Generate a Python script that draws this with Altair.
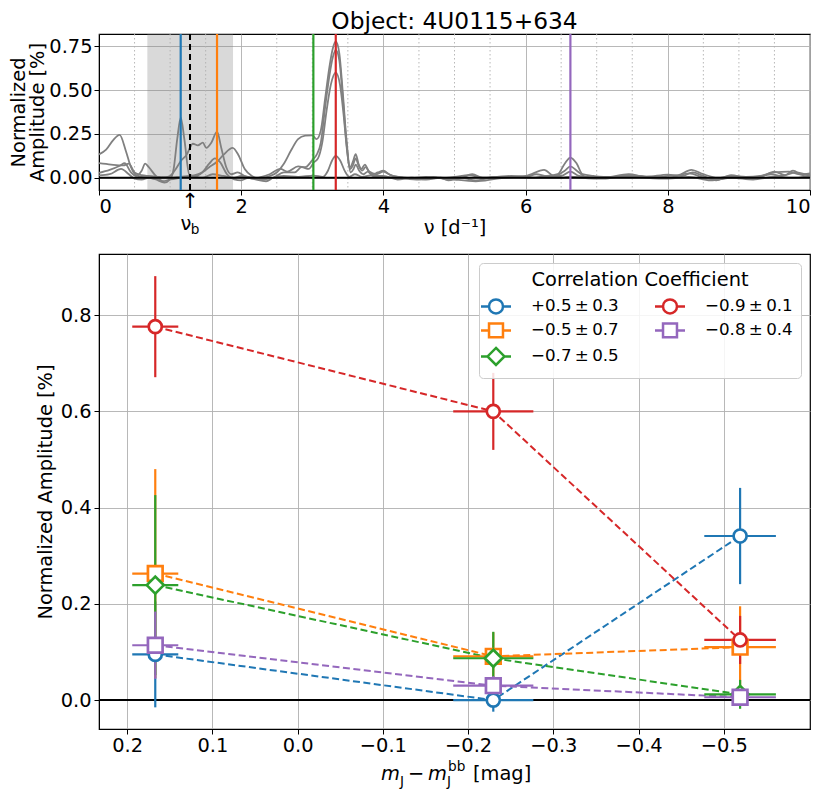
import altair as alt
import pandas as pd

FONT = "DejaVu Sans"
FS = 19.4
FS_LEG = 16.7

# ---------------- top panel: amplitude spectra ----------------
curve_A = [(0, 0.133), (0.1, 0.16), (0.2, 0.215), (0.29, 0.244), (0.38, 0.15), (0.45, 0.06),
           (0.52, 0.015), (0.6, 0.005), (0.7, 0.0), (0.8, -0.005), (0.9, 0.0), (1.0, 0.01),
           (1.08, 0.05), (1.15, 0.095), (1.23, 0.13), (1.32, 0.194), (1.39, 0.185), (1.46, 0.2),
           (1.51, 0.17), (1.58, 0.2), (1.66, 0.263), (1.72, 0.17), (1.79, 0.06), (1.86, 0.02),
           (1.95, 0.03), (2.05, 0.01), (2.15, -0.005), (2.3, 0.0), (2.4, 0.01), (2.5, 0.03),
           (2.6, 0.08), (2.7, 0.155), (2.8, 0.22), (2.9, 0.24), (3.0, 0.242), (3.06, 0.22),
           (3.12, 0.27), (3.18, 0.45), (3.24, 0.63), (3.29, 0.74), (3.33, 0.778), (3.38, 0.71),
           (3.43, 0.48), (3.48, 0.22), (3.53, 0.06), (3.57, 0.09), (3.61, 0.135), (3.65, 0.08),
           (3.69, 0.05), (3.74, 0.075), (3.79, 0.04), (3.85, 0.02), (3.92, 0.03), (4.0, 0.04),
           (4.08, 0.02), (4.2, 0.005), (4.4, 0.0), (4.6, 0.005), (4.8, 0.0), (5.0, 0.005),
           (5.2, 0.015), (5.4, 0.0), (5.6, 0.005), (5.8, 0.01), (6.0, 0.005), (6.15, 0.02),
           (6.3, 0.01), (6.45, 0.02), (6.55, 0.08), (6.63, 0.115), (6.72, 0.08), (6.8, 0.02),
           (6.95, 0.01), (7.1, 0.005), (7.3, 0.005), (7.45, 0.015), (7.6, 0.01), (7.8, 0.0),
           (8.0, 0.01), (8.15, 0.015), (8.33, 0.045), (8.5, 0.02), (8.7, 0.0), (8.9, 0.01),
           (9.1, 0.005), (9.3, 0.01), (9.5, 0.03), (9.7, 0.035), (9.85, 0.02), (10.0, 0.025)]

curve_D = [(0, 0.083), (0.17, 0.075), (0.34, 0.07), (0.42, 0.08), (0.5, 0.03), (0.6, 0.015),
           (0.7, 0.01), (0.85, 0.005), (1.0, 0.0), (1.15, 0.005), (1.3, 0.01), (1.45, 0.0),
           (1.6, 0.02), (1.75, 0.01), (1.9, 0.0), (2.0, 0.01), (2.2, 0.0), (2.4, 0.02),
           (2.55, 0.05), (2.65, 0.035), (2.8, 0.065), (2.9, 0.06), (3.0, 0.1), (3.06, 0.13),
           (3.12, 0.2), (3.18, 0.4), (3.24, 0.58), (3.29, 0.69), (3.33, 0.73), (3.38, 0.67),
           (3.43, 0.45), (3.48, 0.2), (3.53, 0.05), (3.57, 0.07), (3.61, 0.11), (3.65, 0.07),
           (3.7, 0.04), (3.75, 0.06), (3.8, 0.035), (3.9, 0.02), (4.0, 0.035), (4.1, 0.015),
           (4.3, 0.0), (4.5, -0.005), (4.7, 0.005), (4.9, -0.01), (5.1, 0.0), (5.25, 0.02),
           (5.4, 0.0), (5.7, 0.005), (6.0, 0.01), (6.26, 0.045), (6.4, 0.01), (6.55, 0.04),
           (6.63, 0.065), (6.72, 0.04), (6.85, 0.005), (7.1, 0.0), (7.45, 0.02), (7.7, 0.005),
           (8.0, 0.018), (8.2, 0.01), (8.35, 0.03), (8.5, 0.01), (8.68, -0.015), (8.89, 0.015),
           (9.1, 0.0), (9.3, 0.005), (9.5, 0.035), (9.65, 0.015), (9.76, 0.04), (9.9, 0.015),
           (10.0, 0.02)]

curve_B = [(0, 0.028), (0.15, 0.045), (0.3, 0.07), (0.36, 0.083), (0.45, 0.03), (0.52, 0.01),
           (0.6, 0.04), (0.65, 0.08), (0.7, 0.06), (0.8, 0.01), (0.9, -0.02), (1.0, -0.01),
           (1.15, 0.0), (1.3, 0.01), (1.45, 0.03), (1.55, 0.06), (1.66, 0.091), (1.75, 0.13),
           (1.88, 0.17), (1.96, 0.13), (2.05, 0.05), (2.15, 0.01), (2.3, -0.01), (2.45, 0.0),
           (2.6, 0.03), (2.75, 0.03), (2.85, 0.06), (2.95, 0.05), (3.02, 0.087), (3.08, 0.11),
           (3.14, 0.2), (3.2, 0.38), (3.26, 0.53), (3.33, 0.6), (3.39, 0.53), (3.44, 0.36),
           (3.49, 0.15), (3.54, 0.03), (3.58, 0.05), (3.61, 0.075), (3.66, 0.04), (3.72, 0.02),
           (3.78, 0.035), (3.85, 0.01), (4.0, 0.01), (4.2, -0.01), (4.4, 0.0), (4.6, -0.01),
           (4.8, 0.0), (4.91, -0.015), (5.1, 0.0), (5.3, -0.015), (5.5, 0.0), (5.8, 0.005),
           (6.1, 0.0), (6.3, 0.01), (6.5, 0.01), (6.63, 0.035), (6.75, 0.01), (7.0, 0.0),
           (7.3, 0.005), (7.5, 0.01), (7.8, 0.005), (8.0, 0.0), (8.3, 0.025), (8.5, 0.0),
           (8.7, -0.01), (8.9, 0.005), (9.2, 0.0), (9.45, 0.02), (9.6, 0.01), (9.8, 0.03),
           (10.0, 0.01)]

curve_C = [(0, 0.013), (0.15, 0.02), (0.31, 0.05), (0.42, 0.02), (0.5, -0.005), (0.6, -0.01),
           (0.7, 0.0), (0.8, -0.01), (0.92, -0.028), (1.0, -0.01), (1.05, 0.05), (1.1, 0.22),
           (1.15, 0.343), (1.2, 0.222), (1.27, 0.018), (1.35, 0.01), (1.45, 0.03), (1.55, 0.08),
           (1.63, 0.11), (1.7, 0.09), (1.8, 0.02), (1.9, -0.01), (2.0, -0.015), (2.1, 0.0),
           (2.2, -0.01), (2.35, -0.02), (2.45, 0.0), (2.6, 0.01), (2.8, 0.005), (3.02, 0.012),
           (3.15, 0.005), (3.22, 0.04), (3.28, 0.1), (3.33, 0.125), (3.39, 0.1), (3.46, 0.036),
           (3.52, 0.005), (3.6, 0.02), (3.7, 0.005), (3.85, 0.015), (4.0, 0.005), (4.2, 0.0),
           (4.5, -0.01), (4.8, 0.0), (5.0, -0.01), (5.3, -0.02), (5.6, -0.005), (5.9, 0.005),
           (6.2, 0.0), (6.5, 0.0), (6.63, 0.006), (6.8, 0.0), (7.1, -0.005), (7.4, 0.01),
           (7.7, 0.0), (8.0, -0.005), (8.3, 0.005), (8.6, -0.015), (8.9, 0.0), (9.2, -0.01),
           (9.5, 0.005), (9.8, 0.0), (10.0, 0.01)]

curves = {"A": curve_A, "D": curve_D, "B": curve_B, "C": curve_C}

peak_nu = [1.149, 1.66, 3.015, 3.33, 6.63]
nu_b = 1.28
band_lo, band_hi = 0.68, 1.885
minor_nu = [0.5, 1, 1.5, 2.5, 3, 3.5, 4.5, 5, 5.5, 6.5, 7, 7.5, 8.5, 9, 9.5]
top_xticks = [0, 2, 4, 6, 8, 10]
top_yticks = [0, 0.25, 0.5, 0.75]

# ---------------- bottom panel ----------------
labels = ["+0.5\u2009\u00b1\u20090.3", "\u22120.5\u2009\u00b1\u20090.7", "\u22120.7\u2009\u00b1\u20090.5",
          "\u22120.9\u2009\u00b1\u20090.1", "\u22120.8\u2009\u00b1\u20090.4"]
colors = ["#1f77b4", "#ff7f0e", "#2ca02c", "#d62728", "#9467bd"]
shapes = ["circle", "square", "diamond", "circle", "square"]
sizes = [170, 215, 290, 170, 215]

x_color = [0.167, -0.2295, -0.519]
x_err = [0.027, 0.047, 0.042]
amp_vals = [[0.095, 0.0, 0.341],
            [0.263, 0.091, 0.11],
            [0.239, 0.087, 0.012],
            [0.776, 0.600, 0.125],
            [0.114, 0.03, 0.006]]
amp_errs = [[0.11, 0.024, 0.10],
            [0.217, 0.05, 0.085],
            [0.187, 0.055, 0.03],
            [0.105, 0.08, 0.05],
            [0.07, 0.02, 0.015]]
bot_xticks = [0.2, 0.1, 0.0, -0.1, -0.2, -0.3, -0.4, -0.5]
bot_yticks = [0.0, 0.2, 0.4, 0.6, 0.8]

# legend: vega fills the two columns top-down, like matplotlib
leg_domain = labels
leg_paths = {
    "circle": "M-2,0L-0.93,0M0.93,0L2,0M-0.93,0A0.93,0.93,0,1,0,0.93,0A0.93,0.93,0,1,0,-0.93,0Z",
    "square": "M-2,0L-0.93,0M0.93,0L2,0M-0.93,-0.93L0.93,-0.93L0.93,0.93L-0.93,0.93Z",
    "diamond": "M-2,0L-1.13,0M1.13,0L2,0M0,-1.13L1.13,0L0,1.13L-1.13,0Z",
}
leg_shapes = [leg_paths[s] for s in shapes]

# ---------------- data frames ----------------
spec_rows = []
for name, pts in curves.items():
    for nu, a in pts:
        spec_rows.append({"curve": name, "nu": nu, "amp": a})
spec_df = pd.DataFrame(spec_rows)
peak_df = pd.DataFrame({"nu": peak_nu, "series": labels})
minor_df = pd.DataFrame({"nu": minor_nu})
band_df = pd.DataFrame({"x0": [band_lo], "x1": [band_hi]})

rows = []
for s, lab in enumerate(labels):
    for k in range(3):
        y = amp_vals[s][k]
        e = amp_errs[s][k]
        rows.append({"series": lab, "k": k, "x": x_color[k],
                     "xlo": x_color[k] - x_err[k], "xhi": x_color[k] + x_err[k],
                     "y": y, "ylo": y - e, "yhi": y + e})
bot_df = pd.DataFrame(rows)

# ---------------- top chart ----------------
W = 711
H_TOP = 156
H_BOT = 475

xs_top = alt.Scale(domain=[0, 10], nice=False, zero=False)
ys_top = alt.Scale(domain=[-0.07, 0.82], nice=False, zero=False)
x_axis_top = alt.Axis(values=top_xticks, format="d", title="\u03bd [d\u207b\u00b9]",
                      grid=True, titlePadding=3, labelPadding=2)
y_axis_top = alt.Axis(values=top_yticks, format=".2f",
                      title=["Normalized", "Amplitude [%]"], grid=True, titlePadding=1,
                      titleLineHeight=19, labelPadding=2)
col_scale = alt.Scale(domain=leg_domain, range=colors)

def X(field, **kw):
    return alt.X(field, type="quantitative", scale=xs_top, axis=x_axis_top, **kw)

def Y(field, **kw):
    return alt.Y(field, type="quantitative", scale=ys_top, axis=y_axis_top, **kw)

band = alt.Chart(band_df).mark_rect(color="gray", opacity=0.3).encode(
    x=X("x0"), x2="x1", y=Y("lo"), y2="hi"
).transform_calculate(lo="-0.07", hi="0.82")

minor = alt.Chart(minor_df).mark_rule(color="#b0b0b0", strokeDash=[1.5, 2.5], strokeWidth=0.9).encode(
    x=X("nu")
)

spec = alt.Chart(spec_df).mark_line(color="gray", strokeWidth=1.8, interpolate="monotone").encode(
    x=X("nu"), y=Y("amp"), detail="curve:N"
)

zero_top = alt.Chart(pd.DataFrame({"z": [0]})).mark_rule(color="black", strokeWidth=1.8).encode(
    y=Y("z")
)

peaks = alt.Chart(peak_df).mark_rule(strokeWidth=2.2).encode(
    x=X("nu"), color=alt.Color("series:N", scale=col_scale, legend=None)
)

nub_df = pd.DataFrame({"nu": [nu_b]})
nub_line = alt.Chart(nub_df).mark_rule(color="black", strokeWidth=2, strokeDash=[6, 4]).encode(
    x=X("nu")
)
arrow = alt.Chart(nub_df).mark_text(text="\u2191", font=FONT, fontSize=21, baseline="middle",
                                    align="center", color="black").encode(
    x=X("nu"), y=alt.value(H_TOP + 12)
)
nu_txt = alt.Chart(nub_df).mark_text(text="\u03bd", font=FONT, fontSize=FS, baseline="middle",
                                     align="center", color="black", dx=-4).encode(
    x=X("nu"), y=alt.value(H_TOP + 34)
)
b_txt = alt.Chart(nub_df).mark_text(text="b", font=FONT, fontSize=13.6, baseline="middle",
                                    align="center", color="black", dx=5).encode(
    x=X("nu"), y=alt.value(H_TOP + 40)
)

top = alt.layer(band, minor, spec, zero_top, peaks, nub_line, arrow, nu_txt, b_txt).properties(
    width=W, height=H_TOP,
    title=alt.TitleParams("Object: 4U0115+634", font=FONT, fontSize=23.3, fontWeight="normal",
                          color="black", anchor="middle", offset=-1)
)

# ---------------- bottom chart ----------------
xs_bot = alt.Scale(domain=[-0.601, 0.233], reverse=True, nice=False, zero=False)
ys_bot = alt.Scale(domain=[-0.06, 0.927], nice=False, zero=False)
x_axis_bot = alt.Axis(values=bot_xticks, format=".1f", title=None, grid=True, labelPadding=2)
y_axis_bot = alt.Axis(values=bot_yticks, format=".1f", title="Normalized Amplitude [%]",
                      grid=True, titlePadding=5, labelPadding=3)

def XB(field, **kw):
    return alt.X(field, type="quantitative", scale=xs_bot, axis=x_axis_bot, **kw)

def YB(field, **kw):
    return alt.Y(field, type="quantitative", scale=ys_bot, axis=y_axis_bot, **kw)

col_enc = alt.Color("series:N", scale=col_scale, legend=None)

leg = alt.Legend(title="Correlation Coefficient", orient="top-right", columns=2,
                 offset=9, padding=8, cornerRadius=4, strokeColor="#cccccc",
                 fillColor="rgba(255,255,255,0.85)", titleFont=FONT, titleFontSize=FS,
                 titleFontWeight="normal", titleColor="black", titleAnchor="middle",
                 titlePadding=7, titleLimit=500, labelLimit=300, labelFont=FONT,
                 labelFontSize=FS_LEG, labelColor="black",
                 symbolSize=225, symbolStrokeWidth=2.5, symbolOpacity=1,
                 symbolFillColor="white", labelOffset=26, columnPadding=31, rowPadding=0)
legend_layer = alt.Chart(bot_df[bot_df["k"] == 0]).mark_point(filled=False, opacity=0).encode(
    x=XB("x"), y=YB("y"),
    color=alt.Color("series:N", scale=col_scale, legend=leg),
    shape=alt.Shape("series:N", scale=alt.Scale(domain=leg_domain, range=leg_shapes), legend=leg),
)

zero_bot = alt.Chart(pd.DataFrame({"z": [0]})).mark_rule(color="black", strokeWidth=2).encode(
    y=YB("z")
)
lines = alt.Chart(bot_df).mark_line(strokeDash=[7, 3.5], strokeWidth=2).encode(
    x=XB("x"), y=YB("y"), color=col_enc, detail="series:N", order="k:Q"
)

layers = [legend_layer, zero_bot, lines]
for s, lab in enumerate(labels):
    sub = bot_df[bot_df["series"] == lab]
    layers.append(alt.Chart(sub).mark_rule(strokeWidth=2.2).encode(
        x=XB("x"), y=YB("ylo"), y2="yhi", color=col_enc))
    layers.append(alt.Chart(sub).mark_rule(strokeWidth=2.2).encode(
        x=XB("xlo"), x2="xhi", y=YB("y"), color=col_enc))
for s, lab in enumerate(labels):
    sub = bot_df[bot_df["series"] == lab]
    layers.append(alt.Chart(sub).mark_point(shape=shapes[s], size=sizes[s], filled=False,
                                            fill="white", strokeWidth=2.7, opacity=1).encode(
        x=XB("x"), y=YB("y"), color=col_enc))

# x-axis title  m_J - m_J^bb [mag]
one = alt.Data(values=[{"a": 1}])
title_parts = [("m", 282, 526, FS, "italic"), ("J", 301, 532, 13.6, "normal"),
               ("\u2212", 309, 526, FS, "normal"), ("m", 329, 526, FS, "italic"),
               ("J", 348, 532, 13.6, "normal"), ("bb", 349, 517, 13.6, "normal"),
               ("[mag]", 374, 526, FS, "normal")]
for txt, px, py, fs, st in title_parts:
    layers.append(alt.Chart(one).mark_text(text=txt, font=FONT, fontSize=fs, fontStyle=st,
                                           align="left", baseline="alphabetic",
                                           color="black").encode(
        x=alt.value(px), y=alt.value(py)))

bottom = alt.layer(*layers).properties(width=W, height=H_BOT)

chart = alt.vconcat(top, bottom, spacing=15).resolve_scale(
    color="independent", shape="independent"
).properties(padding=0).configure(font=FONT).configure_axis(
    labelFont=FONT, labelFontSize=FS, labelColor="black", titleFont=FONT, titleFontSize=FS,
    titleFontWeight="normal", titleColor="black", tickColor="black", tickSize=5,
    domainColor="black", gridColor="#b0b0b0", gridWidth=0.9
).configure_view(stroke="black", strokeWidth=1.2)

chart.save("out.html", embed_options={"renderer": "svg", "actions": False})
